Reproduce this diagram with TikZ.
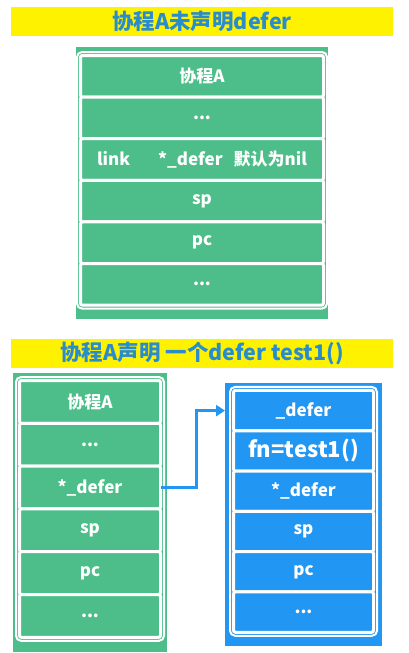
\documentclass[tikz,border=0pt]{standalone}
\usepackage{fontspec}
\setmainfont{Noto Sans CJK SC}
\usetikzlibrary{positioning,fit,arrows.meta}

\definecolor{cellgreen}{RGB}{77,190,137}
\definecolor{cellblue}{RGB}{33,150,243}
\definecolor{titleblue}{RGB}{40,140,205}

\begin{document}
\begin{tikzpicture}[x=1pt, y=-1pt, >={Triangle[length=9pt,width=11pt]}, node distance=0pt,
    banner/.style={fill=yellow, text=titleblue, inner sep=0pt, minimum width=382pt,
                   minimum height=29pt, font=\bfseries\fontsize{21.5}{24}\selectfont},
    panel/.style={inner sep=0pt, outer sep=0pt},
    cell/.style={draw=white, line width=3pt, rounded corners=2pt, inner sep=0pt, outer sep=0pt,
                 text=white, font=\bfseries\fontsize{17}{20}\selectfont},
    topcell/.style={cell, fill=cellgreen, minimum width=243pt, minimum height=41.6pt},
    leftcell/.style={cell, fill=cellgreen, minimum width=141pt, minimum height=42.8pt},
    rightcell/.style={cell, fill=cellblue, minimum width=140pt, minimum height=40.3pt},
    frame/.style={draw=white, line width=2pt, rounded corners=5pt, inner sep=3.5pt}]

  \useasboundingbox (0,0) rectangle (408,653);

  % first case: no defer yet
  \node[banner] (title1) at (202,21.5) {协程A未声明defer};
  \node[panel, fill=cellgreen, minimum width=252pt, minimum height=272pt] (panelA) at (202,183) {};

  \node[topcell] (a1) at (202,76.3) {协程A};
  \node[topcell, below=of a1] (a2) {...};
  \node[topcell, below=of a2] (a3) {link\hspace{28pt}*\_defer\hspace{11pt}默认为nil};
  \node[topcell, below=of a3] (a4) {sp};
  \node[topcell, below=of a4] (a5) {pc};
  \node[topcell, below=of a5] (a6) {...};
  \node[frame, fit=(a1)(a6)] (frameA) {};

  % second case: defer test1()
  \node[banner] (title2) at (202,353.5) {协程A声明 一个defer test1()};
  \node[panel, fill=cellgreen, minimum width=154pt, minimum height=279pt] (panelB) at (90,512.5) {};
  \node[panel, fill=cellblue, minimum width=157pt, minimum height=263pt] (panelD) at (303.5,514.5) {};

  \node[leftcell] (b1) at (90,401.9) {协程A};
  \node[leftcell, below=of b1] (b2) {...};
  \node[leftcell, below=of b2] (b3) {*\_defer};
  \node[leftcell, below=of b3] (b4) {sp};
  \node[leftcell, below=of b4] (b5) {pc};
  \node[leftcell, below=of b5] (b6) {...};
  \node[frame, fit=(b1)(b6)] (frameB) {};

  \node[rightcell] (d1) at (303.5,410.6) {\_defer};
  \node[rightcell, below=of d1, font=\bfseries\fontsize{22}{24}\selectfont] (d2) {fn=test1()};
  \node[rightcell, below=of d2] (d3) {*\_defer};
  \node[rightcell, below=of d3] (d4) {sp};
  \node[rightcell, below=of d4] (d5) {pc};
  \node[rightcell, below=of d5] (d6) {...};
  \node[frame, fit=(d1)(d6)] (frameD) {};

  \coordinate (tip) at (panelD.west |- d1);
  \draw[->, cellblue, line width=3.5pt] (b3.east) -- ++(36,0) |- (tip);
\end{tikzpicture}
\end{document}
